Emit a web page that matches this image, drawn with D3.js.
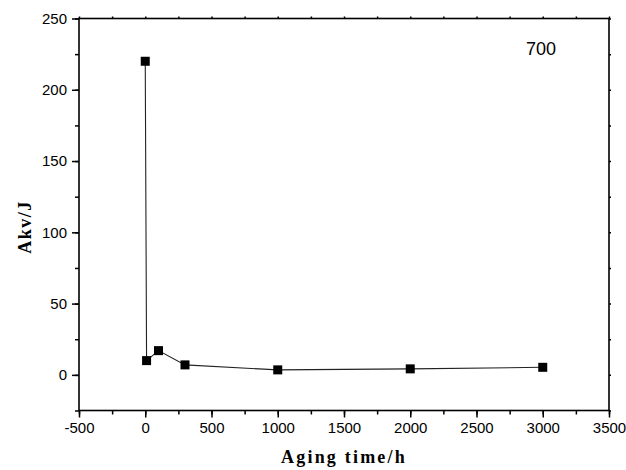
<!DOCTYPE html>
<html><head><meta charset="utf-8">
<script src="https://cdn.jsdelivr.net/npm/d3@7"></script>
<style>body{margin:0;background:#fff}svg{display:block}</style>
</head><body>
<svg id="c" width="626" height="470"></svg>
<script>
const agingTime = [0, 10, 100, 300, 1000, 2000, 3000];
const akv = [220, 10, 17, 7, 3.5, 4.2, 5.3];
const xTicks = [-500, 0, 500, 1000, 1500, 2000, 2500, 3000, 3500];
const yTicks = [0, 50, 100, 150, 200, 250];
const xLabel = "Aging time/h";
const yLabel = "Akv/J";
const note = "700";

const svg = d3.select("#c");
const L = 79, R = 609, T = 18.5, B = 410.5;
const x = d3.scaleLinear().domain([-500, 3500]).range([L, R]);
const y = d3.scaleLinear().domain([-25, 250]).range([B, T]);
const xMinor = d3.range(-500, 3501, 250);
const yMinor = d3.range(-25, 251, 25);
const tf = "'Liberation Sans', Arial, sans-serif";
const titleFont = "'Liberation Serif', 'Times New Roman', serif";

function styleAxis(g){ g.select(".domain").remove(); g.selectAll("line").attr("stroke","#000").attr("stroke-width",1.5); g.selectAll("text").attr("font-family",tf).attr("font-size",15).attr("fill","#000"); }

svg.append("g").attr("transform",`translate(0,${B})`).call(d3.axisBottom(x).tickValues(xMinor).tickSize(4).tickFormat("")).call(styleAxis);
svg.append("g").attr("transform",`translate(${L},0)`).call(d3.axisLeft(y).tickValues(yMinor).tickSize(4).tickFormat("")).call(styleAxis);
svg.append("g").attr("transform",`translate(0,${T})`).call(d3.axisTop(x).tickValues(xMinor).tickSize(2).tickFormat("")).call(styleAxis);
svg.append("g").attr("transform",`translate(${R},0)`).call(d3.axisRight(y).tickValues(yMinor).tickSize(2).tickFormat("")).call(styleAxis);
svg.append("g").attr("transform",`translate(0,${B})`).call(d3.axisBottom(x).tickValues(xTicks).tickSize(7).tickPadding(5).tickFormat(d=>String(d))).call(styleAxis);
svg.append("g").attr("transform",`translate(${L},0)`).call(d3.axisLeft(y).tickValues(yTicks).tickSize(7).tickPadding(5).tickFormat(d=>String(d))).call(styleAxis);

svg.append("rect").attr("x",L).attr("y",T).attr("width",R-L).attr("height",B-T).attr("fill","none").attr("stroke","#000").attr("stroke-width",1.6);

const pts = agingTime.map((t,i)=>[t,akv[i]]);
svg.append("path").datum(pts).attr("fill","none").attr("stroke","#222").attr("stroke-width",1.1)
  .attr("d", d3.line().x(d=>x(d[0])).y(d=>y(d[1])));
svg.selectAll("rect.m").data(pts).enter().append("rect").attr("class","m")
  .attr("x",d=>x(d[0])-4.5).attr("y",d=>y(d[1])-4.5).attr("width",9).attr("height",9).attr("fill","#000");

svg.append("text").attr("x",526).attr("y",55).attr("font-family",tf).attr("font-size",18).text(note);
svg.append("text").attr("x",(L+R)/2).attr("y",463).attr("text-anchor","middle")
  .attr("font-family",titleFont).attr("font-weight","bold").attr("font-size",18).attr("letter-spacing",2.2).text(xLabel);
svg.append("text").attr("transform","translate(31,227) rotate(-90)").attr("text-anchor","middle")
  .attr("font-family",titleFont).attr("font-weight","bold").attr("font-size",18).attr("letter-spacing",1.5).text(yLabel);
</script>
</body></html>
